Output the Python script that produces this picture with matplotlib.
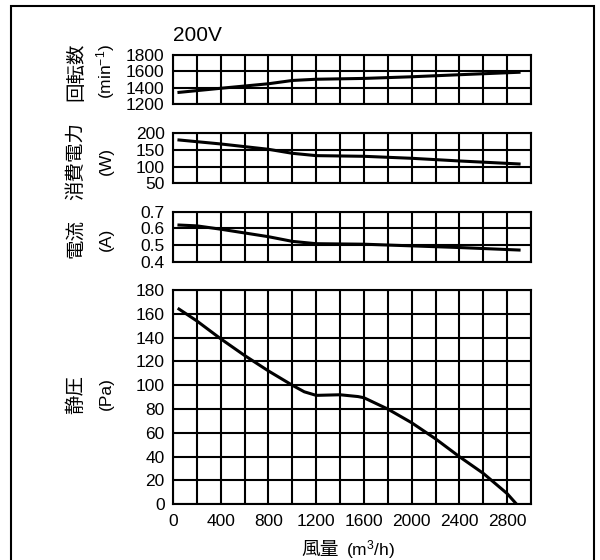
import numpy as np
import matplotlib
matplotlib.use("Agg")
import matplotlib.pyplot as plt
from matplotlib.patches import Rectangle

plt.rcParams['font.family'] = ['Liberation Sans', 'Noto Sans CJK JP', 'DejaVu Sans']
plt.rcParams['mathtext.fontset'] = 'custom'
plt.rcParams['mathtext.rm'] = 'Liberation Sans'
plt.rcParams['mathtext.it'] = 'Liberation Sans'
plt.rcParams['mathtext.default'] = 'rm'

# air flow (m3/h) vs each quantity
rpm_q = [50, 400, 800, 1000, 1200, 1600, 2000, 2400, 2900]
rpm = [1345, 1395, 1450, 1490, 1505, 1515, 1535, 1560, 1590]

pw_q = [50, 400, 800, 1000, 1200, 1600, 2000, 2400, 2900]
pw = [180, 168, 152, 140, 133, 131, 125, 117, 108]

cur_q = [50, 200, 400, 800, 1000, 1200, 1600, 2000, 2400, 2900]
cur = [0.62, 0.615, 0.595, 0.55, 0.522, 0.508, 0.505, 0.495, 0.485, 0.47]

pa_q = [50, 200, 400, 600, 800, 900, 1000, 1100, 1200, 1400, 1550, 1600, 1800, 2000, 2200, 2400, 2600, 2800, 2880]
pa = [164, 154, 139, 125, 112, 106, 100, 94.5, 91.5, 92, 90.5, 89.5, 80, 68.5, 55, 40, 26, 9, 0]

x_lab = ['0', '', '400', '', '800', '', '1200', '', '1600', '', '2000', '', '2400', '', '2800', '']

W, H = 600, 560
fig = plt.figure(figsize=(W / 100, H / 100), dpi=100)

# outer frame
fig.add_artist(Rectangle((11 / W, -0.02), 583 / W, (H - 6) / H + 0.02,
                         transform=fig.transFigure, fill=False, lw=1.5, ec='black'))

def px_axes(top, bot):
    return fig.add_axes([173 / W, (H - bot) / H, 358 / W, (bot - top) / H])

def style(ax, yticks, ylabels, xlabels):
    ax.set_xlim(0, 3000)
    ax.set_xticks(range(0, 3001, 200))
    ax.set_xticklabels(xlabels)
    ax.set_ylim(yticks[0], yticks[-1])
    ax.set_yticks(yticks)
    ax.set_yticklabels(ylabels)
    ax.grid(True, color='black', lw=1.5)
    ax.tick_params(length=0, labelsize=12.5, pad=6)
    for s in ax.spines.values():
        s.set_linewidth(1.5)

ax1 = px_axes(55, 104.3)
ax1.plot(rpm_q, rpm, color='black', lw=2.2)
style(ax1, [1200, 1400, 1600, 1800], ['1200', '1400', '1600', '1800'], [])

ax2 = px_axes(133.3, 183.3)
ax2.plot(pw_q, pw, color='black', lw=2.2)
style(ax2, [50, 100, 150, 200], ['50', '100', '150', '200'], [])

ax3 = px_axes(211.7, 261.7)
ax3.plot(cur_q, cur, color='black', lw=2.2)
style(ax3, [0.4, 0.5, 0.6, 0.7], ['0.4', '0.5', '0.6', '0.7'], [])

ax4 = px_axes(290, 504.3)
ax4.plot(pa_q, pa, color='black', lw=2.2)
yt = list(range(0, 181, 20))
style(ax4, yt, [str(v) for v in yt], x_lab)
ax4.tick_params(axis='x', pad=7)

fig.text(173 / W, 1 - 41 / H, '200V', fontsize=15, ha='left', va='baseline')

def ylab(yc, name, unit):
    fig.text(76 / W, 1 - yc / H, name, rotation=90, fontsize=14, ha='center', va='center',
             family=['Noto Sans CJK JP', 'DejaVu Sans'])
    fig.text(106 / W, 1 - yc / H, unit, rotation=90, fontsize=12.5, ha='center', va='center')

ylab(72, '回転数', '(min$^{-1}$)')
ylab(161, '消費電力', '(W)')
ylab(239, '電流', '(A)')
ylab(394, '静圧', '(Pa)')

fig.text(339 / W, 1 - 555 / H, '風量', fontsize=13.5, ha='right', va='baseline',
         family=['Noto Sans CJK JP', 'DejaVu Sans'])
fig.text(346 / W, 1 - 555 / H, '(m$^3$/h)', fontsize=12.5, ha='left', va='baseline')

fig.savefig('out.png', dpi=100)
